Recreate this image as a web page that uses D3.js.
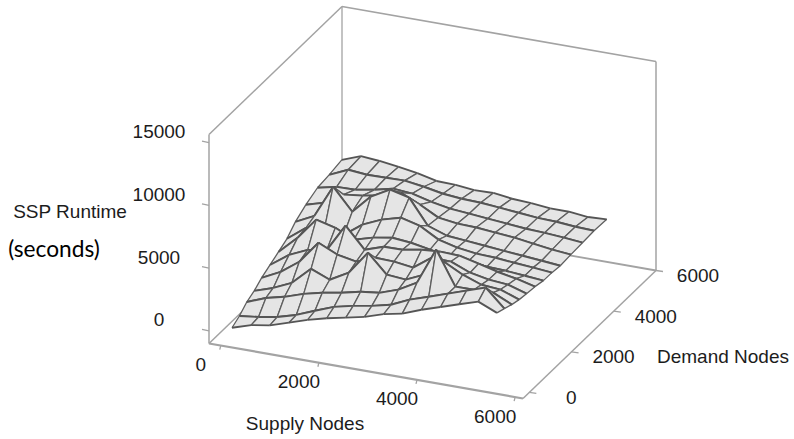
<!DOCTYPE html>
<html>
<head>
<meta charset="utf-8">
<script src="https://cdn.jsdelivr.net/npm/d3@7"></script>
<style>
  html, body { margin: 0; background: #fff; }
  text { font-family: "Liberation Sans", Arial, sans-serif; fill: #1c1c1c; }
</style>
</head>
<body>
<div class="canvas"></div>
<script>
// data
const supplyTicks = [0, 2000, 4000, 6000];
const demandTicks = [0, 2000, 4000, 6000];
const runtimeTicks = [0, 5000, 10000, 15000];

const supplyNodes = [100, 490, 870, 1260, 1640, 2030, 2420, 2800, 3190, 3570, 3960, 4350, 4730, 5120, 5500];
const demandNodes = [0, 350, 700, 1050, 1400, 1800, 2200, 2600, 3000, 3500, 4050, 4600, 5200];

// one row per demand level, one value per supply level
const runtime = [
  [0, 480, 720, 1200, 1680, 2080, 2400, 2720, 3200, 3500, 4080, 4560, 5040, 5520, 4880],
  [370, 560, 820, 1250, 1840, 2420, 2770, 3030, 3380, 4050, 4550, 5060, 5560, 6070, 4660],
  [920, 1510, 1860, 2360, 2710, 2980, 3320, 3500, 4020, 4840, 7740, 5050, 5070, 5100, 4410],
  [1240, 1740, 2410, 3790, 3180, 4010, 5870, 4380, 4250, 4910, 6220, 5440, 4900, 4780, 4240],
  [1710, 2460, 3520, 5300, 4620, 4320, 4900, 4850, 4640, 5700, 5650, 5030, 4740, 4610, 4150],
  [2090, 3160, 3820, 4090, 6280, 4620, 5130, 5150, 5420, 5530, 5470, 5100, 4720, 4430, 4060],
  [2480, 3870, 5580, 5200, 4510, 4940, 5200, 5060, 4780, 4480, 4340, 4210, 4150, 4020, 3890],
  [2880, 4020, 4290, 3990, 5060, 5730, 6150, 5780, 4930, 4550, 4340, 4280, 4140, 4020, 3880],
  [3580, 4330, 6910, 5180, 6650, 7470, 7100, 5120, 4590, 4460, 4320, 4180, 4050, 3920, 3780],
  [4140, 4570, 5470, 5660, 5930, 6430, 5740, 4960, 4750, 4700, 4560, 4420, 4210, 4000, 3860],
  [4600, 4940, 4970, 5230, 5580, 5450, 5070, 4780, 4650, 4510, 4380, 4240, 4180, 4060, 3920],
  [4740, 5410, 5270, 5300, 5330, 5110, 4820, 4680, 4630, 4500, 4360, 4220, 4170, 4040, 3980],
  [4960, 5520, 5400, 5200, 4960, 4600, 4560, 4400, 4440, 4240, 4160, 4000, 4000, 3840, 3920]
];

const svg = d3.select('.canvas')
  .append('svg')
    .attr('width', 794)
    .attr('height', 439)
    .style('display', 'block');

// scales run along the three edges of the box
const sScale = d3.scaleLinear().domain([-240, 6160]).range([0, 1]);
const dScale = d3.scaleLinear().domain([-300, 6000]).range([0, 1]);
const zScale = d3.scaleLinear().domain([-1000, 15650]).range([0, 1]);

// parallel projection, origin is the lower left corner of the box
const origin = [209, 343.5];
const xEdge = [314, 55];
const yEdge = [133, -128];
const zHeight = 209;

const project = (s, d, z) => [
  origin[0] + sScale(s) * xEdge[0] + dScale(d) * yEdge[0],
  origin[1] + sScale(s) * xEdge[1] + dScale(d) * yEdge[1] - zScale(z) * zHeight
];

const sMin = sScale.domain()[0], sMax = sScale.domain()[1];
const dMin = dScale.domain()[0], dMax = dScale.domain()[1];
const zMin = zScale.domain()[0], zMax = zScale.domain()[1];

const line = d3.line();
const boxColor = '#a3a3a3';

// box
const box = svg.append('g').attr('fill', 'none').attr('stroke', boxColor);
const boxEdges = [
  [[sMin, dMin, zMin], [sMin, dMin, zMax], 1.5],
  [[sMin, dMin, zMax], [sMin, dMax, zMax], 1.5],
  [[sMin, dMax, zMax], [sMax, dMax, zMax], 1.6],
  [[sMax, dMax, zMax], [sMax, dMax, zMin], 1.5],
  [[sMin, dMax, zMax], [sMin, dMax, zMin], 1.3],
  [[sMin, dMax, zMin], [sMax, dMax, zMin], 1.8],
  [[sMin, dMin, zMin], [sMin, dMax, zMin], 1.5],
  [[sMin, dMin, zMin], [sMax, dMin, zMin], 2.2],
  [[sMax, dMin, zMin], [sMax, dMax, zMin], 1.5]
];
box.selectAll('path')
  .data(boxEdges)
  .enter().append('path')
    .attr('d', e => line([project(...e[0]), project(...e[1])]))
    .attr('stroke-width', e => e[2]);

// ticks
const ticks = svg.append('g').attr('stroke', boxColor).attr('stroke-width', 1.3);
const drawTick = (p) => ticks.append('path').attr('d', line(p));

supplyTicks.forEach(v => {
  const a = project(v, dMin, zMin);
  drawTick([a, [a[0] - 1, a[1] + 4]]);
});
demandTicks.forEach(v => {
  const a = project(sMax, v, zMin);
  drawTick([a, [a[0] + 7, a[1] + 1]]);
});
runtimeTicks.forEach(v => {
  const a = project(sMin, dMin, v);
  drawTick([a, [a[0] - 7, a[1] - 1.5]]);
});

// surface, painted from the far corner to the near one
const surface = svg.append('g');
const corner = (i, j) => project(supplyNodes[i], demandNodes[j], runtime[j][i]);

for (let i = 0; i < supplyNodes.length - 1; i++) {
  for (let j = demandNodes.length - 2; j >= 0; j--) {
    const a = corner(i, j), b = corner(i + 1, j), c = corner(i + 1, j + 1), e = corner(i, j + 1);
    surface.append('path')
      .attr('d', line([a, b, c, e]) + 'Z')
      .attr('fill', '#e5e5e5')
      .attr('stroke', 'none');
    // supply lines are thin, demand lines heavier
    surface.append('path')
      .attr('d', line([a, e]) + line([b, c]))
      .attr('fill', 'none')
      .attr('stroke', '#5f5f5f')
      .attr('stroke-width', 1.3);
    surface.append('path')
      .attr('d', line([a, b]) + line([e, c]))
      .attr('fill', 'none')
      .attr('stroke', '#555')
      .attr('stroke-width', 1.9);
  }
}

// labels
const labels = svg.append('g').attr('text-anchor', 'middle').attr('dominant-baseline', 'central').attr('font-size', 19);

labels.selectAll('.supply')
  .data(supplyTicks)
  .enter().append('text')
    .attr('x', d => project(d, dMin, zMin)[0] - 20)
    .attr('y', d => project(d, dMin, zMin)[1] + 19)
    .text(d => d);

labels.selectAll('.demand')
  .data(demandTicks)
  .enter().append('text')
    .attr('x', d => project(sMax, d, zMin)[0] + 42)
    .attr('y', d => project(sMax, d, zMin)[1] + 5)
    .text(d => d);

labels.selectAll('.runtime')
  .data(runtimeTicks)
  .enter().append('text')
    .attr('x', 159)
    .attr('y', d => project(sMin, dMin, d)[1] - 11)
    .text(d => d);

labels.append('text').attr('x', 305).attr('y', 423).text('Supply Nodes');
labels.append('text').attr('x', 723).attr('y', 356).text('Demand Nodes');
labels.append('text').attr('x', 70).attr('y', 211).text('SSP Runtime');
labels.append('text').attr('x', 54).attr('y', 248).text('(seconds)')
  .attr('font-size', 22.7)
  .style('font-family', 'Lato')
  .style('fill', '#000');
</script>
</body>
</html>
